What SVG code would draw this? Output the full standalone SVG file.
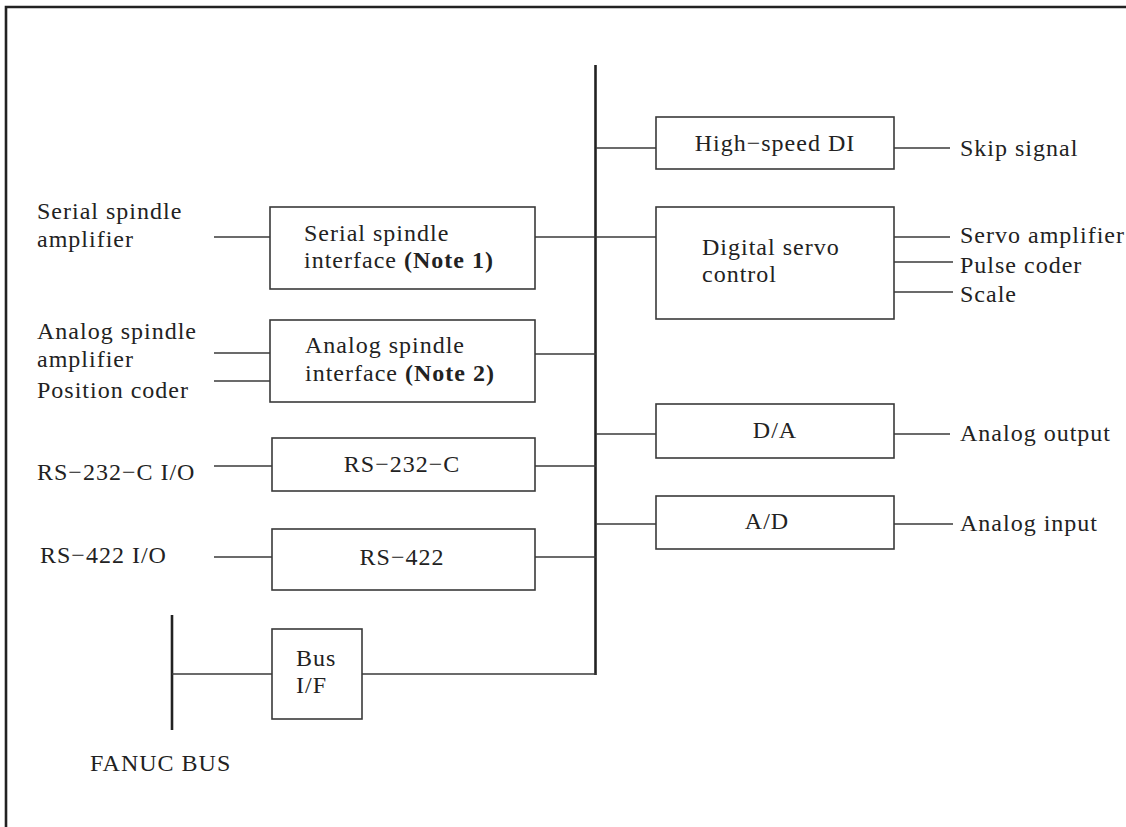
<svg xmlns="http://www.w3.org/2000/svg" width="1126" height="827" viewBox="0 0 1126 827">
<style>
.box{fill:#fff;stroke:#3a3a3a;stroke-width:1.6}
.ln{stroke:#3a3a3a;stroke-width:1.6;fill:none}
.bus{stroke:#222;stroke-width:2.6;fill:none}
text{font-family:"Liberation Serif","Times New Roman",serif;font-size:24px;letter-spacing:1px;fill:#222}
.b{font-weight:bold}
.c{text-anchor:middle}
</style>
<rect width="1126" height="827" fill="#fff"/>
<path d="M6,827 V7 H1126" class="bus"/>
<g id="connectors">
<line x1="595.5" y1="65" x2="595.5" y2="675" class="bus"/>
<line x1="172" y1="615" x2="172" y2="730" class="bus"/>
<line x1="535" y1="237" x2="656" y2="237" class="ln"/>
<line x1="535" y1="354" x2="596" y2="354" class="ln"/>
<line x1="535" y1="466" x2="596" y2="466" class="ln"/>
<line x1="535" y1="557" x2="596" y2="557" class="ln"/>
<line x1="362" y1="674" x2="596" y2="674" class="ln"/>
<line x1="596" y1="148" x2="656" y2="148" class="ln"/>
<line x1="596" y1="434" x2="656" y2="434" class="ln"/>
<line x1="596" y1="524" x2="656" y2="524" class="ln"/>
<line x1="894" y1="148" x2="950" y2="148" class="ln"/>
<line x1="894" y1="237" x2="950" y2="237" class="ln"/>
<line x1="894" y1="262" x2="953" y2="262" class="ln"/>
<line x1="894" y1="292" x2="953" y2="292" class="ln"/>
<line x1="894" y1="434" x2="950" y2="434" class="ln"/>
<line x1="894" y1="524" x2="953" y2="524" class="ln"/>
<line x1="214" y1="237" x2="270" y2="237" class="ln"/>
<line x1="214" y1="353" x2="270" y2="353" class="ln"/>
<line x1="214" y1="381" x2="270" y2="381" class="ln"/>
<line x1="214" y1="466" x2="272" y2="466" class="ln"/>
<line x1="214" y1="557" x2="272" y2="557" class="ln"/>
<line x1="172" y1="674" x2="272" y2="674" class="ln"/>
</g>
<g id="serial-spindle-if">
<rect x="270" y="207" width="265" height="82" class="box"/>
<text x="304" y="241">Serial spindle</text>
<text x="304" y="268">interface <tspan class="b">(Note 1)</tspan></text>
</g>
<g id="analog-spindle-if">
<rect x="270" y="320" width="265" height="82" class="box"/>
<text x="305" y="353">Analog spindle</text>
<text x="305" y="381">interface <tspan class="b">(Note 2)</tspan></text>
</g>
<g id="rs232c">
<rect x="272" y="438" width="263" height="53" class="box"/>
<text x="402" y="472" class="c">RS−232−C</text>
</g>
<g id="rs422">
<rect x="272" y="529" width="263" height="61" class="box"/>
<text x="402" y="565" class="c">RS−422</text>
</g>
<g id="bus-if">
<rect x="272" y="629" width="90" height="90" class="box"/>
<text x="296" y="666">Bus</text>
<text x="296" y="693">I/F</text>
</g>
<g id="high-speed-di">
<rect x="656" y="117" width="238" height="52" class="box"/>
<text x="775" y="151" class="c">High−speed DI</text>
</g>
<g id="digital-servo">
<rect x="656" y="207" width="238" height="112" class="box"/>
<text x="702" y="255">Digital servo</text>
<text x="702" y="282">control</text>
</g>
<g id="da">
<rect x="656" y="404" width="238" height="54" class="box"/>
<text x="775" y="438" class="c">D/A</text>
</g>
<g id="ad">
<rect x="656" y="496" width="238" height="53" class="box"/>
<text x="767" y="529" class="c">A/D</text>
</g>
<g id="labels">
<text x="37" y="219">Serial spindle</text>
<text x="37" y="247">amplifier</text>
<text x="37" y="339">Analog spindle</text>
<text x="37" y="367">amplifier</text>
<text x="37" y="398">Position coder</text>
<text x="37" y="480">RS−232−C I/O</text>
<text x="40" y="563">RS−422 I/O</text>
<text x="90" y="771">FANUC BUS</text>
<text x="960" y="156">Skip signal</text>
<text x="960" y="243">Servo amplifier</text>
<text x="960" y="273">Pulse coder</text>
<text x="960" y="302">Scale</text>
<text x="960" y="441">Analog output</text>
<text x="960" y="531">Analog input</text>
</g>
</svg>
